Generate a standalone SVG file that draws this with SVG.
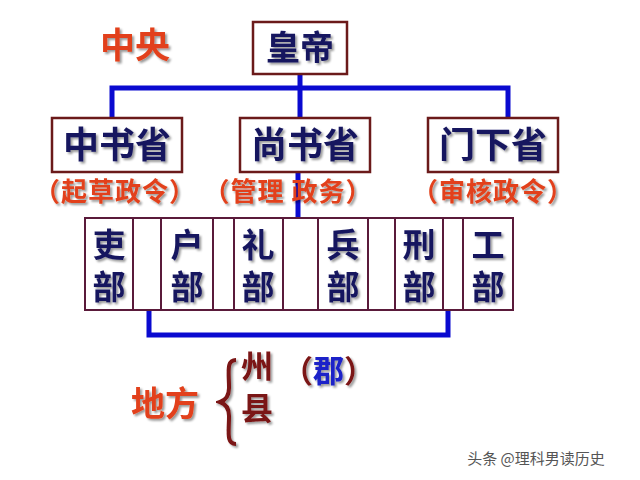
<svg xmlns="http://www.w3.org/2000/svg" width="640" height="480" viewBox="0 0 640 480">
<defs>
<filter id="sh" x="-20%" y="-10%" width="140%" height="130%">
<feDropShadow dx="2" dy="2" stdDeviation="1" flood-color="#000" flood-opacity="0.4"/>
</filter>
</defs>
<style>
.box{fill:#fff;stroke:#6b1a1a;stroke-width:2.5}
.cell{fill:#fff;stroke:#5a1a3a;stroke-width:2}
.t{font-family:"Noto Sans CJK SC","Noto Sans CJK JP",sans-serif;font-weight:bold;fill:#17175e;text-anchor:middle;filter:url(#sh)}
.r{font-family:"Noto Sans CJK SC","Noto Sans CJK JP",sans-serif;font-weight:bold;fill:#e2401a;text-anchor:middle;filter:url(#sh)}
.dr{font-family:"Noto Sans CJK SC","Noto Sans CJK JP",sans-serif;font-weight:bold;fill:#7a1212;filter:url(#sh)}
.ln{fill:none;stroke:#0a0ad0;stroke-width:5}
.sub{font-size:26px;letter-spacing:1px}
.v{font-size:33px;writing-mode:vertical-rl;letter-spacing:9px}
</style>
<rect width="640" height="480" fill="#fff"/>
<g id="connectors">
<path class="ln" d="M300 74V118M112 118V88H508V118"/>
<path class="ln" d="M298 172V218"/>
<path class="ln" d="M149 310V335H448V310"/>
</g>
<text class="r" x="135" y="58" font-size="35">中央</text>
<g id="emperor">
<rect class="box" x="253" y="22" width="94" height="52"/>
<text class="t" x="300" y="60" font-size="34">皇帝</text>
</g>
<g id="zhongshu">
<rect class="box" x="52" y="118" width="130" height="54"/>
<text class="t" x="117" y="158" font-size="36">中书省</text>
<text class="r sub" x="115" y="201">（起草政令）</text>
</g>
<g id="shangshu">
<rect class="box" x="240" y="118" width="130" height="54"/>
<text class="t" x="305" y="158" font-size="36">尚书省</text>
<text class="r sub" x="288" y="201">（管理 政务）</text>
</g>
<g id="menxia">
<rect class="box" x="428" y="118" width="130" height="54"/>
<text class="t" x="493" y="158" font-size="36">门下省</text>
<text class="r sub" x="493" y="201">（审核政令）</text>
</g>
<g id="liubu">
<rect class="cell" x="85" y="218" width="48" height="92"/>
<rect class="cell" x="133" y="218" width="28" height="92"/>
<rect class="cell" x="161" y="218" width="52" height="92"/>
<rect class="cell" x="213" y="218" width="21" height="92"/>
<rect class="cell" x="234" y="218" width="49" height="92"/>
<rect class="cell" x="283" y="218" width="35" height="92"/>
<rect class="cell" x="318" y="218" width="50" height="92"/>
<rect class="cell" x="368" y="218" width="27" height="92"/>
<rect class="cell" x="395" y="218" width="48" height="92"/>
<rect class="cell" x="443" y="218" width="20" height="92"/>
<rect class="cell" x="463" y="218" width="50" height="92"/>
</g>
<g id="libu"><text class="t v" x="109" y="270">吏部</text></g>
<g id="hubu"><text class="t v" x="187" y="270">户部</text></g>
<g id="libu2"><text class="t v" x="258" y="270">礼部</text></g>
<g id="bingbu"><text class="t v" x="343" y="270">兵部</text></g>
<g id="xingbu"><text class="t v" x="419" y="270">刑部</text></g>
<g id="gongbu"><text class="t v" x="488" y="270">工部</text></g>
<g id="difang">
<text class="r" x="165" y="416" font-size="34">地方</text>
<path d="M236 360C226 360 229 372 229 388C229 396 226 400 220 402C226 404 229 408 229 416C229 432 226 444 236 444" fill="none" stroke="#7a1212" stroke-width="4" filter="url(#sh)"/>
<text class="dr" x="257" y="392" font-size="32" style="writing-mode:vertical-rl;letter-spacing:10px" text-anchor="middle">州县</text>
<text class="dr" x="282" y="382" font-size="31">（<tspan fill="#1a22c8">郡</tspan>）</text>
</g>
<text x="536" y="464" font-family="Noto Sans CJK SC,sans-serif" font-size="15" fill="#555" text-anchor="middle">头条 @理科男读历史</text>
</svg>
